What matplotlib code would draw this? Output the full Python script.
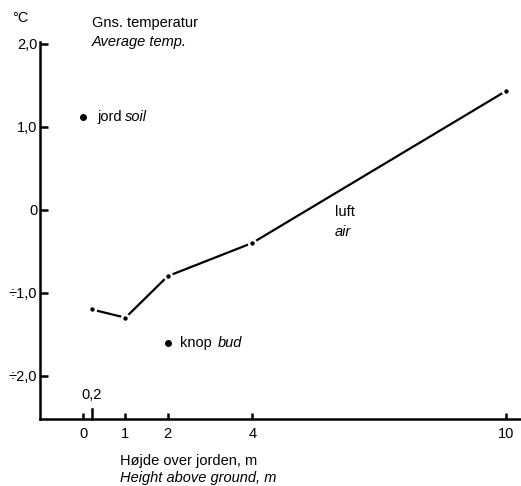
import numpy as np
import matplotlib.pyplot as plt

plt.rcParams['font.family'] = ['Liberation Sans', 'DejaVu Sans']

# air temperature profile
height = [0.2, 1, 2, 4, 10]
temp_air = [-1.2, -1.3, -0.8, -0.4, 1.43]
# single points
soil_x, soil_y = 0, 1.12
bud_x, bud_y = 2, -1.6

xticks = [0, 1, 2, 4, 10]
xticklabels = ['0', '1', '2', '4', '10']
yticks = [2.0, 1.0, 0, -1.0, -2.0]
yticklabels = ['2,0', '1,0', '0', '\u00f71,0', '\u00f72,0']

fs = 10.5

fig = plt.figure(figsize=(5.21, 4.86), dpi=100)
ax = fig.add_axes([40/521, 67/486, 480/521, 377/486])

ax.plot(height, temp_air, color='black', lw=1.6, zorder=2)
ax.plot(height, temp_air, 'o', ms=5, mfc='black', mec='white', mew=1.8, zorder=3)
ax.plot([soil_x, bud_x], [soil_y, bud_y], 'o', ms=4, color='black', zorder=3)

ax.set_xlim(-1.02, 10.33)
ax.set_ylim(-2.52, 2.02)

for s in ['top', 'right']:
    ax.spines[s].set_visible(False)
ax.spines['left'].set_linewidth(1.8)
ax.spines['bottom'].set_linewidth(1.8)

ax.set_yticks(yticks)
ax.set_yticklabels(yticklabels, fontsize=fs)
ax.tick_params(axis='y', direction='in', length=6, width=1.8, pad=2)
ax.set_xticks(xticks)
ax.set_xticklabels(xticklabels, fontsize=fs)
ax.tick_params(axis='x', direction='in', length=4, width=1.8, pad=6)

# the 0,2 tick sits above the axis
ax.plot([0.2, 0.2], [-2.52, -2.4], color='black', lw=1.8, clip_on=False)
ax.text(0.2, -2.32, '0,2', ha='center', va='bottom', fontsize=fs)

ax.text(soil_x + 0.33, soil_y, 'jord', ha='left', va='center', fontsize=fs)
ax.text(soil_x + 0.98, soil_y, 'soil', ha='left', va='center', fontsize=fs, style='italic')
ax.text(bud_x + 0.3, bud_y, 'knop', ha='left', va='center', fontsize=fs)
ax.text(bud_x + 1.19, bud_y, 'bud', ha='left', va='center', fontsize=fs, style='italic')
ax.text(5.95, -0.03, 'luft', ha='left', va='center', fontsize=fs)
ax.text(5.95, -0.27, 'air', ha='left', va='center', fontsize=fs, style='italic')

fig.text(12/521, 1 - 18/486, '\u00b0C', ha='left', va='center', fontsize=fs)
fig.text(92/521, 1 - 23/486, 'Gns. temperatur', ha='left', va='center', fontsize=fs)
fig.text(92/521, 1 - 42/486, 'Average temp.', ha='left', va='center', fontsize=fs, style='italic')
fig.text(120/521, 1 - 461/486, 'H\u00f8jde over jorden, m', ha='left', va='center', fontsize=fs)
fig.text(120/521, 1 - 478/486, 'Height above ground, m', ha='left', va='center', fontsize=fs, style='italic')

fig.savefig('out.png', dpi=100)
